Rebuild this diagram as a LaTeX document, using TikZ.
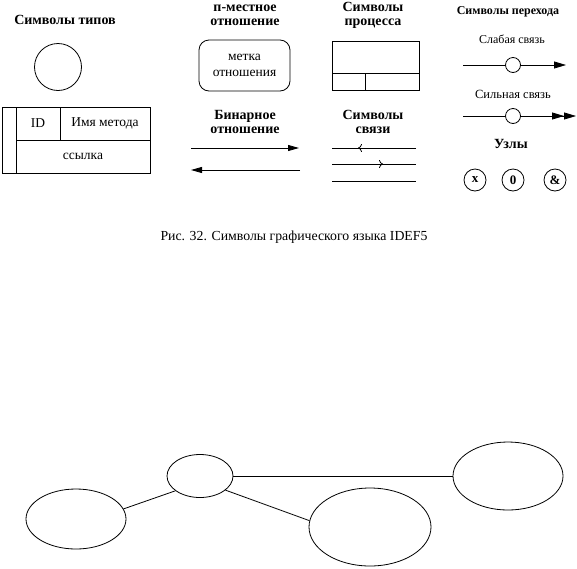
\documentclass[tikz,border=0pt]{standalone}
\usepackage{fontspec}
\setmainfont{Liberation Serif}
\usetikzlibrary{positioning,arrows.meta,calc,shapes.geometric}
\tikzset{
  every path/.style={line width=0.8pt},
  heading/.style={font=\fontsize{14}{14}\selectfont\bfseries, align=center, inner sep=0pt},
  label/.style={font=\fontsize{12}{16}\selectfont, align=center, inner sep=0pt},
  cell/.style={draw, rectangle, inner sep=0pt, font=\fontsize{13.5}{16}\selectfont},
  bubble/.style={draw, ellipse, inner sep=0pt},
  junction/.style={draw, circle, minimum size=22pt, inner sep=0pt, font=\fontsize{13}{13}\selectfont\bfseries},
  link/.style={draw, circle, fill=white, minimum size=15pt, inner sep=0pt},
}

\begin{document}
\begin{tikzpicture}[x=1pt, y=-1pt]
  \useasboundingbox (0,0) rectangle (577,568);

  \node[heading] (tTypes) at (65,20) {Символы типов};
  \node[draw, circle, minimum size=47pt, inner sep=0pt] (typeC) at (58,67) {};
  \node[cell, minimum width=14pt, minimum height=66pt] (side) at (9,140) {};
  \node[cell, minimum width=44pt, minimum height=33pt] (idCell) at (38,123.5) {ID};
  \node[cell, minimum width=90pt, minimum height=33pt] (nameCell) at (105,123.5) {Имя метода};
  \node[cell, minimum width=134pt, minimum height=33pt] (refCell) at (83,156.5) {ссылка};

  \node[heading] (tNary) at (245,15.5) {п-местное\\отношение};
  \node[cell, rounded corners=10pt, minimum width=91pt, minimum height=51pt, align=center,
        font=\fontsize{13.5}{16}\selectfont] (nBox) at (244.5,65.5) {метка\\отношения};
  \node[heading] (tBin) at (245,122) {Бинарное\\отношение};
  \coordinate (b1w) at (191,148);
  \coordinate (b1e) at (299,148);
  \coordinate (b2w) at (191,170);
  \coordinate (b2e) at (300,170);
  \draw[-{Triangle[length=11pt,width=6pt]}] (b1w) -- (b1e);
  \draw[-{Triangle[length=11pt,width=6pt]}] (b2e) -- (b2w);

  \node[heading] (tProc) at (373,15) {Символы\\процесса};
  \node[cell, minimum width=87pt, minimum height=32pt] (pTop) at (375.5,57) {};
  \node[cell, minimum width=33pt, minimum height=17pt] (pLeft) at (348.5,81.5) {};
  \node[cell, minimum width=54pt, minimum height=17pt] (pRight) at (392,81.5) {};

  \node[heading] (tLink) at (373,122) {Символы\\связи};
  \coordinate (l1w) at (332,148);
  \coordinate (l1m) at (358,148);
  \coordinate (l1e) at (416,148);
  \coordinate (l2w) at (332,164);
  \coordinate (l2m) at (383,164);
  \coordinate (l2e) at (416,164);
  \coordinate (l3w) at (332,181);
  \coordinate (l3e) at (416,181);
  \draw (l1w) -- (l1e);
  \draw[-{To[length=4pt,width=8pt]}] (l1e) -- (l1m);
  \draw (l2w) -- (l2e);
  \draw[-{To[length=4pt,width=8pt]}] (l2w) -- (l2m);
  \draw (l3w) -- (l3e);

  \node[heading, font=\fontsize{12}{14}\selectfont\bfseries] (tTrans) at (508,12) {Символы перехода};
  \node[label] (weakT) at (512,39) {Слабая связь};
  \coordinate (wkw) at (463,65);
  \coordinate (wke) at (566,65);
  \draw[-{Triangle[length=12pt,width=7pt]}] (wkw) -- (wke);
  \node[link] (wkC) at (513,65) {};
  \node[label, font=\fontsize{12.5}{16}\selectfont] (strongT) at (513,94) {Сильная связь};
  \coordinate (stw) at (463,116);
  \coordinate (ste) at (576,116);
  \draw[-{Triangle[length=12pt,width=7pt]Triangle[length=12pt,width=7pt]}] (stw) -- (ste);
  \node[link] (stC) at (513,116) {};
  \node[heading] (tNodes) at (511,144) {Узлы};
  \node[junction] (jX) at (475,180) {x};
  \node[junction] (j0) at (513,180) {0};
  \node[junction] (jAnd) at (555,180) {\&};

  \node[label, font=\fontsize{13.8}{16}\selectfont] (caption) at (294,237)
    {Рис. 32. Символы графического языка IDEF5};

  \node[bubble, minimum width=66pt, minimum height=43pt] (eTop) at (200,476) {};
  \node[bubble, minimum width=100pt, minimum height=60pt] (eLeft) at (76,519) {};
  \node[bubble, minimum width=122pt, minimum height=78pt] (eMid) at (370,527) {};
  \node[bubble, minimum width=110pt, minimum height=68pt] (eRight) at (508,476) {};
  \draw (eTop.east) -- (eRight.west);
  \draw (eTop.211) -- (eLeft.12);
  \draw (eTop.331) -- (eMid.174);
\end{tikzpicture}
\end{document}
